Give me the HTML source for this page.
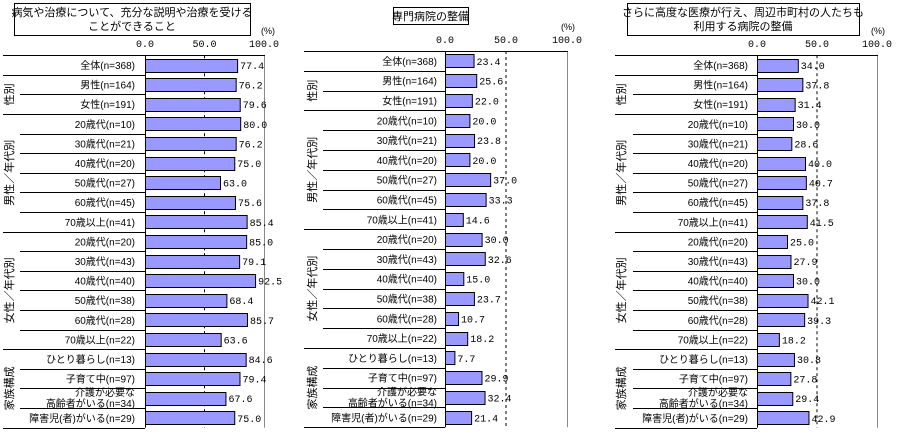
<!DOCTYPE html>
<html><head><meta charset="utf-8">
<style>
html,body{margin:0;padding:0;background:#fff;}
svg{display:block;font-family:"Liberation Sans","Noto Sans CJK JP",sans-serif;}
</style></head>
<body>
<svg id="chart" width="897" height="435" viewBox="0 0 897 435" xmlns="http://www.w3.org/2000/svg"></svg>
<script>
const categories = ["全体(n=368)","男性(n=164)","女性(n=191)","20歳代(n=10)","30歳代(n=21)","40歳代(n=20)","50歳代(n=27)","60歳代(n=45)","70歳以上(n=41)","20歳代(n=20)","30歳代(n=43)","40歳代(n=40)","50歳代(n=38)","60歳代(n=28)","70歳以上(n=22)","ひとり暮らし(n=13)","子育て中(n=97)","介護が必要な\n高齢者がいる(n=34)","障害児(者)がいる(n=29)"];
const groups = [{label:"性別",start:1,end:2},{label:"男性／年代別",start:3,end:8},{label:"女性／年代別",start:9,end:14},{label:"家族構成",start:15,end:18}];
const titles = [["病気や治療について、充分な説明や治療を受ける","ことができること"],["専門病院の整備"],["さらに高度な医療が行え、周辺市町村の人たちも","利用する病院の整備"]];
const series1 = [77.4,76.2,79.6,80.0,76.2,75.0,63.0,75.6,85.4,85.0,79.1,92.5,68.4,85.7,63.6,84.6,79.4,67.6,75.0];
const series2 = [23.4,25.6,22.0,20.0,23.8,20.0,37.0,33.3,14.6,30.0,32.6,15.0,23.7,10.7,18.2,7.7,29.9,32.4,21.4];
const series3 = [34.0,37.8,31.4,30.0,28.6,40.0,40.7,37.8,41.5,25.0,27.9,30.0,42.1,39.3,18.2,30.8,27.8,29.4,42.9];
const tickLabels = ["0.0","50.0","100.0"];
const tickValues = [0,50,100];

const NS="http://www.w3.org/2000/svg";
const svg=document.getElementById('chart');
function mk(tag,attrs,parent){const e=document.createElementNS(NS,tag);for(const k in attrs)e.setAttribute(k,attrs[k]);(parent||svg).appendChild(e);return e;}

const panels=[
 {data:series1,x0:145,x1:264,top:55.2,step:19.6,outer:3,inner:20,glx:10,labR:135,tickY:47,box:[14,3,236,32],pctX:268,pctY:34},
 {data:series2,x0:445,x1:567,top:51,step:19.8,outer:304,inner:323,glx:313,labR:437,tickY:43,box:[393,7,75,17],pctX:568,pctY:30},
 {data:series3,x0:757,x1:877,top:55.2,step:19.6,outer:615,inner:633,glx:622,labR:748,tickY:47,box:[627,3,232,32],pctX:878,pctY:34}
];

panels.forEach((p,pi)=>{
  const g=mk('g',{});
  
  
  const xs=v=>p.x0+(p.x1-p.x0)*v/100;
  const ys=i=>p.top+p.step*i;
  const n=categories.length;
  const bottom=ys(n);
  // title box
  const tb=mk('rect',{x:p.box[0]+.5,y:p.box[1]+.5,width:p.box[2],height:p.box[3],fill:'#fff',stroke:'#000'},g);
  
  
  const lines=titles[pi];
  lines.forEach((t,li)=>{
    const tt=mk('text',{x:p.box[0]+p.box[2]/2,y:lines.length===1?p.box[1]+13:p.box[1]+13+li*14,'font-size':11,'text-anchor':'middle',fill:'#000'},g);
    tt.textContent=t;
    
    
  });
  // % label
  const pc=mk('text',{x:p.pctX,y:p.pctY,'font-size':9,'text-anchor':'middle'},g);
  pc.textContent='(%)';
  
  
  // ticks
  tickValues.forEach((v,ti)=>{
    const t=mk('text',{x:xs(v),y:p.tickY,'font-size':10,'text-anchor':'middle','font-family':'Liberation Mono, monospace'},g);
    t.textContent=tickLabels[ti];
    
    
  });
  // 50 dashed
  const dl=mk('line',{x1:xs(50),x2:xs(50),y1:p.top,y2:bottom,stroke:'#000','stroke-dasharray':'3,3'},g);
  
  
  // right border
  const rb=mk('line',{x1:xs(100)+.5,x2:xs(100)+.5,y1:p.top,y2:bottom,stroke:'#888'},g);
  
  
  // top line
  const tl=mk('line',{x1:p.outer,x2:xs(100)+1,y1:Math.round(p.top)+.5,y2:Math.round(p.top)+.5,stroke:'#000'},g);
  
  
  // row separator lines
  const groupStarts=groups.map(x=>x.start);
  for(let i=1;i<=n;i++){
    const full=groupStarts.includes(i)||i===n;
    const y=Math.round(ys(i))+.5;
    const l=mk('line',{x1:full?p.outer:p.inner,x2:p.x0,y1:y,y2:y,stroke:'#000'},g);
    
    
  }
  // axis
  const ax=mk('line',{x1:p.x0+.5,x2:p.x0+.5,y1:p.top,y2:bottom,stroke:'#000'},g);
  
  
  // group labels
  groups.forEach(gr=>{
    const cy=(ys(gr.start)+ys(gr.end+1))/2;
    const t=mk('text',{x:p.glx,y:cy,'font-size':11,'text-anchor':'middle','dominant-baseline':'central',transform:`rotate(-90 ${p.glx} ${cy})`},g);
    t.textContent=gr.label;
    
    
  });
  // bars
  p.data.forEach((v,i)=>{
    const cy=ys(i)+p.step/2;
    const lab=categories[i].split('\n');
    lab.forEach((s,li)=>{
      const t=mk('text',{x:p.labR,y:lab.length===1?cy+4:cy-2+li*11,'font-size':10,'text-anchor':'end'},g);
      t.textContent=s;
      
      
    });
    const b=mk('rect',{x:p.x0+.5,y:Math.round(cy-6.5)+.5,width:xs(v)-p.x0,height:13,fill:'#9999ff',stroke:'#000'},g);
    
    
    const vt=mk('text',{x:xs(v)+3,y:cy+4,'font-size':10,'font-family':'Liberation Mono, monospace'},g);
    vt.textContent=v.toFixed(1);
    
    
  });
});
</script>
</body></html>
